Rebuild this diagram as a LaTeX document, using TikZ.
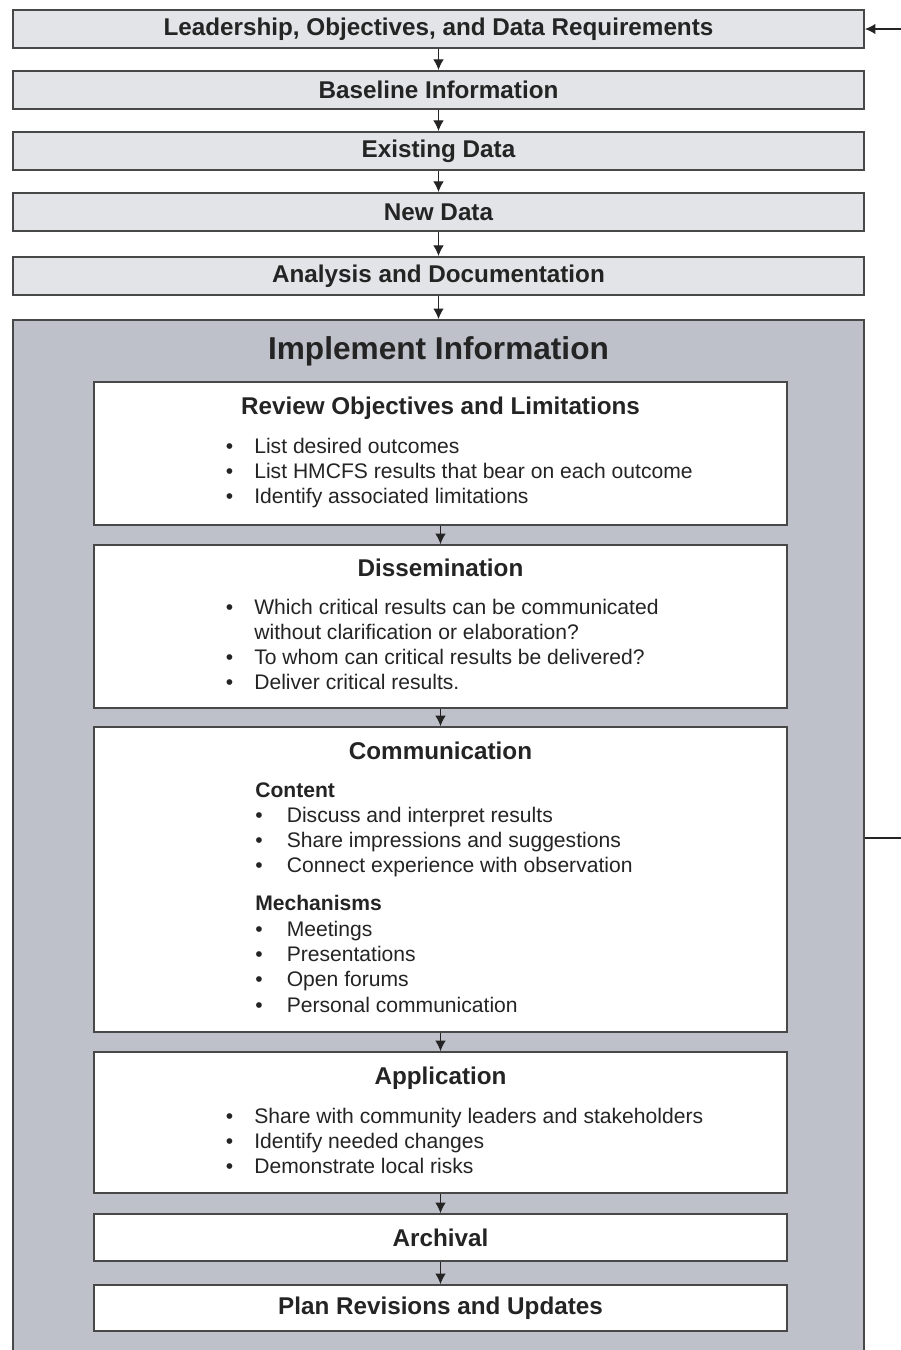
\documentclass[tikz,border=0pt]{standalone}
\usepackage{fontspec}
\setmainfont{Liberation Sans}
\usetikzlibrary{arrows.meta}

\definecolor{stepfill}{HTML}{E3E4E8}
\definecolor{implfill}{HTML}{BEC1CA}
\definecolor{edgegray}{HTML}{484848}
\definecolor{txtgray}{HTML}{242424}

\newcommand{\bul}{\textbullet}

\begin{document}
\begin{tikzpicture}[x=0.02cm, y=-0.02cm,
        stage/.style={rectangle, draw=edgegray, line width=1.2pt, fill=stepfill, minimum width=17.02cm, minimum height=0.76cm, inner sep=0pt, font=\fontsize{13.8}{16}\selectfont\bfseries, text=txtgray},
        implement/.style={rectangle, draw=edgegray, line width=1.2pt, fill=implfill, minimum width=17.02cm, minimum height=21cm, inner sep=0pt},
        substage/.style={rectangle, draw=edgegray, line width=1pt, fill=white, minimum width=13.86cm, inner sep=0pt, font=\fontsize{13.8}{16}\selectfont\bfseries, text=txtgray},
        heading/.style={anchor=base, inner sep=0pt, font=\fontsize{13.8}{16}\selectfont\bfseries, text=txtgray},
        points/.style={anchor=base west, inner sep=0pt, font=\fontsize{12}{14.4}\selectfont, text=txtgray, align=left},
        flow/.style={-{Latex[length=2.1mm,width=2.1mm]}, line width=0.6pt, draw=txtgray}
    ]
        \useasboundingbox (0,0) rectangle (900,1350);

        % Etapes du haut
        \node[stage] (lead) at (438.5,29) {Leadership, Objectives, and Data Requirements};
        \node[stage] (base) at (438.5,90) {Baseline Information};
        \node[stage] (exist) at (438.5,151) {Existing Data};
        \node[stage] (new) at (438.5,212) {New Data};
        \node[stage] (anal) at (438.5,276) {Analysis and Documentation};

        % Grand cadre
        \node[implement] (impl) at (438.5,845) {};
        \node[heading, font=\fontsize{18}{20}\selectfont\bfseries] (implt) at (438.5,359.5) {Implement Information};

        % Sous-etapes
        \node[substage, minimum height=2.86cm] (rev) at (440.5,453.5) {};
        \node[substage, minimum height=3.26cm] (dis) at (440.5,626.5) {};
        \node[substage, minimum height=6.1cm] (com) at (440.5,879.5) {};
        \node[substage, minimum height=2.82cm] (app) at (440.5,1122.5) {};
        \node[substage, minimum height=0.94cm] (arc) at (440.5,1237.5) {Archival};
        \node[substage, minimum height=0.92cm] (plan) at (440.5,1308) {Plan Revisions and Updates};

        % Titres et listes
        \node[heading] (revt) at (440.5,414) {Review Objectives and Limitations};
        \node[points] (revl) at (225.5,453) {\begin{tabular}[t]{@{}p{0.57cm}@{}l@{}}
            \bul & List desired outcomes\\
            \bul & List HMCFS results that bear on each outcome\\
            \bul & Identify associated limitations
        \end{tabular}};

        \node[heading] (dist) at (440.5,576) {Dissemination};
        \node[points] (disl) at (225.5,614) {\begin{tabular}[t]{@{}p{0.57cm}@{}l@{}}
            \bul & Which critical results can be communicated\\
                 & without clarification or elaboration?\\
            \bul & To whom can critical results be delivered?\\
            \bul & Deliver critical results.
        \end{tabular}};

        \node[heading] (comt) at (440.5,759) {Communication};
        \node[points] (coml) at (255,797) {\begin{tabular}[t]{@{}p{0.63cm}@{}l@{}}
            \multicolumn{2}{@{}l@{}}{\bfseries Content}\\
            \bul & Discuss and interpret results\\
            \bul & Share impressions and suggestions\\
            \bul & Connect experience with observation\\[7.2pt]
            \multicolumn{2}{@{}l@{}}{\bfseries Mechanisms}\\
            \bul & Meetings\\
            \bul & Presentations\\
            \bul & Open forums\\
            \bul & Personal communication
        \end{tabular}};

        \node[heading] (appt) at (440.5,1084) {Application};
        \node[points] (appl) at (225.5,1123) {\begin{tabular}[t]{@{}p{0.57cm}@{}l@{}}
            \bul & Share with community leaders and stakeholders\\
            \bul & Identify needed changes\\
            \bul & Demonstrate local risks
        \end{tabular}};

        % Fleches
        \draw[flow] (lead) -- (base);
        \draw[flow] (base) -- (exist);
        \draw[flow] (exist) -- (new);
        \draw[flow] (new) -- (anal);
        \draw[flow] (anal) -- (impl);
        \draw[flow] (rev) -- (dis);
        \draw[flow] (dis) -- (com);
        \draw[flow] (com) -- (app);
        \draw[flow] (app) -- (arc);
        \draw[flow] (arc) -- (plan);

        % Retour vers le haut
        \coordinate (back1) at (930,838);
        \coordinate (back2) at (930,29);
        \draw[flow] (back1 -| impl.east) -- (back1) -- (back2) -- (lead.east);
    \end{tikzpicture}
\end{document}
